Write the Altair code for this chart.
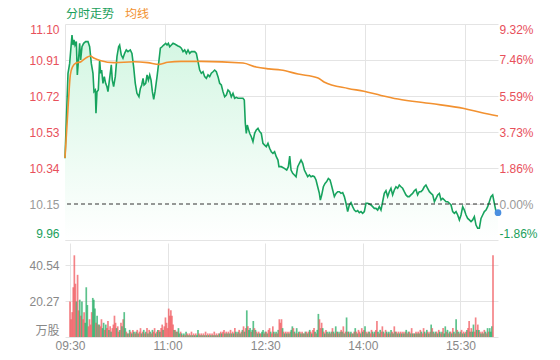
import altair as alt
import pandas as pd

# ---------------- data ----------------
prev_close = 10.15
price_ticks = [9.96, 10.15, 10.34, 10.53, 10.72, 10.91, 11.10]
pct_ticks = [-1.86, 0.00, 1.86, 3.73, 5.59, 7.46, 9.32]
vol_ticks = [0, 20.27, 40.54]
time_ticks = [0, 90, 180, 270, 360]
time_labels = ["09:30", "11:00", "12:30", "14:00", "15:30"]
legend_labels = ["分时走势", "均线"]

price_min = [
    0, 2.7, 4.2, 6.3, 7.2, 8.1, 9.0, 10.2, 11.1, 12.6, 13.2, 14.1, 15.3, 16.8, 18.6, 20.7,
    22.2, 23.7, 25.2, 26.1, 27.3, 27.9, 28.8, 30.0, 31.2, 32.1, 33.0, 34.2, 35.4, 36.6, 37.8,
    38.7, 40.2, 41.7, 42.6, 43.8, 45.3, 46.8, 48.3, 49.2, 50.7, 52.2, 53.7, 55.2, 56.7, 58.8,
    60.3, 61.8, 63.3, 64.8, 66.6, 67.9, 69.1, 70.3, 71.2, 72.7, 73.9, 75.1, 76.3, 77.5, 78.7,
    79.9, 81.1, 82.9, 84.7, 85.9, 87.4, 88.9, 90.7, 91.9, 93.1, 94.3, 95.8, 97.3, 98.8, 100.3,
    101.8, 103.3, 104.8, 106.3, 107.8, 109.3, 110.8, 112.3, 113.8, 115.3, 116.8, 118.3, 119.8,
    121.3, 122.8, 124.3, 125.8, 127.3, 128.8, 130.3, 131.8, 133.3, 134.8, 136.3, 137.8, 139.3,
    140.8, 142.3, 143.8, 145.3, 146.8, 148.3, 149.8, 151.3, 152.8, 154.3, 155.8, 157.3, 158.8,
    160.3, 161.5, 162.4, 163.3, 164.2, 165.4, 166.3, 167.8, 169.3, 170.8, 172.3, 173.8, 175.3,
    176.8, 178.3, 179.8, 181.3, 182.8, 184.3, 185.8, 187.3, 188.8, 190.3, 191.8, 192.7, 194.8,
    197.6, 199.7, 201.2, 202.4, 203.6, 205.1, 206.6, 208.1, 209.6, 211.1, 212.6, 214.1, 215.6,
    217.1, 218.6, 220.1, 221.6, 223.1, 224.6, 226.1, 227.6, 229.1, 230.0, 231.2, 232.7, 234.2,
    235.7, 237.2, 238.7, 239.6, 241.1, 242.6, 244.1, 245.6, 247.1, 248.6, 250.1, 251.6, 253.1,
    254.6, 256.1, 257.6, 259.1, 260.6, 262.1, 263.6, 265.1, 266.6, 268.1, 269.6, 271.1, 272.6,
    274.1, 275.6, 277.1, 278.6, 280.1, 281.6, 283.1, 284.6, 286.1, 287.6, 289.1, 290.6, 292.1,
    293.6, 295.1, 296.6, 298.1, 299.6, 301.1, 302.6, 304.1, 305.6, 307.1, 308.6, 310.1, 311.6,
    313.1, 314.6, 316.1, 317.6, 319.1, 320.6, 322.1, 323.6, 325.1, 326.6, 328.2, 329.7, 331.2,
    332.7, 334.2, 335.7, 337.2, 338.7, 340.2, 341.7, 343.2, 344.7, 346.2, 347.7, 349.2, 350.7,
    352.2, 353.7, 355.2, 356.7, 358.2, 359.7, 361.2, 362.7, 364.2, 365.7, 367.2, 368.7, 370.2,
    371.7, 373.2, 374.7, 376.2, 377.7, 379.2, 380.7, 382.2, 383.7, 385.2, 386.7, 388.2, 390.0,
]
price_val = [
    10.391, 10.840, 10.892, 11.042, 10.989, 11.016, 10.989, 11.007, 10.831, 10.945, 10.998,
    10.910, 10.980, 10.998, 11.007, 11.007, 10.980, 10.892, 10.840, 10.743, 10.752, 10.629,
    10.743, 10.752, 10.910, 10.840, 10.857, 10.787, 10.822, 10.787, 10.769, 10.743, 10.813,
    10.884, 10.804, 10.769, 10.822, 10.928, 10.980, 10.989, 10.936, 10.919, 10.945, 10.963,
    10.954, 10.963, 10.945, 10.875, 10.787, 10.734, 10.716, 10.760, 10.778, 10.813, 10.778,
    10.787, 10.831, 10.804, 10.831, 10.804, 10.743, 10.702, 10.743, 10.822, 10.910, 10.972,
    10.980, 10.989, 10.998, 10.989, 10.998, 10.980, 10.989, 10.998, 10.994, 10.989, 10.984,
    10.980, 10.972, 10.954, 10.963, 10.945, 10.963, 10.945, 10.954, 10.954, 10.954, 10.945,
    10.901, 10.857, 10.840, 10.848, 10.822, 10.813, 10.831, 10.822, 10.840, 10.848, 10.857,
    10.848, 10.822, 10.787, 10.778, 10.743, 10.716, 10.725, 10.752, 10.743, 10.716, 10.734,
    10.708, 10.713, 10.708, 10.708, 10.708, 10.708, 10.699, 10.576, 10.523, 10.567, 10.541,
    10.523, 10.505, 10.479, 10.523, 10.541, 10.549, 10.532, 10.523, 10.470, 10.461, 10.453,
    10.470, 10.444, 10.426, 10.417, 10.426, 10.400, 10.382, 10.347, 10.347,
    10.338, 10.329, 10.347, 10.403, 10.329, 10.312, 10.303, 10.294, 10.347, 10.365, 10.382,
    10.365, 10.329, 10.312, 10.294, 10.303, 10.294, 10.298, 10.294, 10.277, 10.241, 10.206,
    10.171, 10.197, 10.241, 10.259, 10.268, 10.285, 10.277, 10.259, 10.224, 10.189, 10.206,
    10.215, 10.215, 10.206, 10.210, 10.189, 10.154, 10.110, 10.145, 10.157, 10.136, 10.118,
    10.110, 10.115, 10.104, 10.110, 10.101, 10.110, 10.154, 10.154, 10.150, 10.145, 10.136,
    10.127, 10.127, 10.118, 10.136, 10.118, 10.162, 10.206, 10.220, 10.189, 10.215, 10.233,
    10.198, 10.224, 10.241, 10.233, 10.250, 10.241, 10.233, 10.215, 10.198, 10.189, 10.189,
    10.198, 10.206, 10.220, 10.227, 10.198, 10.215, 10.215, 10.224, 10.241, 10.250, 10.233,
    10.215, 10.206, 10.198, 10.162, 10.180, 10.198, 10.206, 10.171, 10.180, 10.171, 10.162,
    10.162, 10.154, 10.145, 10.110, 10.101, 10.110, 10.092, 10.066, 10.092, 10.136, 10.118,
    10.092, 10.074, 10.066, 10.057, 10.066, 10.083, 10.039, 10.022, 10.022, 10.074, 10.092,
    10.110, 10.118, 10.136, 10.162, 10.189, 10.198, 10.154, 10.110, 10.104,
]

avg_min = [0, 3.0, 4.8, 6.9, 9.9, 14.4, 18.9, 22.8, 26.4, 32.4, 44.1, 62.1, 74.5, 84.9, 92.5,
           104.5, 122.5, 160.3, 172.0, 183.7, 194.5, 209.9, 227.9, 233.3, 254.9, 269.3, 284.6,
           299.9, 329.7, 359.4, 374.7, 390.0]
avg_val = [10.393, 10.683, 10.831, 10.875, 10.894, 10.901, 10.921, 10.931, 10.919, 10.906,
           10.896, 10.901, 10.896, 10.887, 10.898, 10.903, 10.903, 10.894, 10.873, 10.863,
           10.857, 10.836, 10.815, 10.794, 10.760, 10.745, 10.723, 10.704, 10.680, 10.654,
           10.633, 10.614]

vol = [
    20, 10, 14, 28, 46, 30, 20, 35, 15, 21,
    12, 20, 10, 14, 8, 28, 18, 6, 10, 7,
    14, 22, 21, 16, 8, 12, 7, 7, 6, 10,
    5, 8, 4, 7, 5, 9, 4, 6, 3, 5,
    7, 12, 8, 5, 6, 3, 4, 8, 6, 10,
    14, 5, 3, 2, 2, 4, 3, 2, 4, 3,
    2, 3, 4, 2, 3, 5, 2, 3, 4, 2,
    3, 5, 2, 4, 3, 2, 4, 3, 5, 2,
    3, 4, 4, 3, 5, 7, 4, 6, 11, 8,
    5, 16, 12, 15, 12, 7, 4, 4, 3, 3,
    5, 2, 3, 2, 1, 2, 1, 3, 2, 1,
    2, 1, 3, 1, 2, 1, 2, 1, 4, 2,
    1, 2, 1, 2, 1, 3, 1, 2, 1, 2,
    1, 2, 1, 3, 1, 2, 1, 2, 2, 3,
    2, 3, 4, 2, 3, 2, 3, 2, 4, 2,
    3, 2, 5, 3, 2, 3, 4, 2, 3, 4,
    6, 3, 5, 15, 6, 4, 5, 3, 4, 9,
    5, 4, 3, 2, 3, 2, 2, 3, 4, 2,
    3, 3, 2, 4, 5, 3, 2, 6, 3, 2,
    3, 2, 4, 10, 8, 10, 5, 3, 2, 3,
    2, 3, 2, 3, 4, 6, 5, 3, 2, 5,
    2, 3, 3, 2, 3, 2, 2, 3, 3, 2,
    3, 4, 3, 2, 4, 5, 3, 2, 4, 13,
    10, 5, 8, 5, 3, 2, 4, 3, 2, 3,
    2, 3, 5, 3, 2, 6, 3, 3, 2, 3,
    4, 3, 6, 2, 3, 11, 3, 3, 2, 3,
    2, 2, 3, 5, 3, 2, 4, 3, 2, 5,
    3, 4, 6, 3, 2, 3, 3, 2, 4, 3,
    2, 3, 4, 9, 3, 2, 4, 3, 6, 3,
    2, 4, 3, 2, 3, 2, 4, 3, 2, 6,
    3, 3, 2, 3, 2, 3, 2, 3, 2, 3,
    4, 2, 3, 3, 2, 5, 2, 2, 2, 3,
    2, 3, 2, 4, 3, 2, 5, 3, 2, 4,
    3, 2, 3, 7, 5, 3, 2, 3, 3, 2,
    4, 3, 2, 3, 5, 2, 6, 3, 4, 2,
    3, 3, 2, 5, 3, 2, 10, 4, 3, 2,
    3, 4, 2, 3, 2, 3, 4, 5, 9, 3,
    5, 3, 7, 3, 11, 4, 7, 4, 3, 2,
    3, 2, 4, 3, 2, 5, 3, 5, 3, 6,
    46,
]
vol_dir = (
    "rrrrrrgrrg" "rgrrgggrrr" "rgggrgrgrr" "ggrgrrgrgr" "rrrgrrgrgr"
    "ggrgrgrgrg" "rgrgrrgrgr" "grgrgrgrrg" "rgrgrrgrrr" "rrrrrrgrgr"
    "ggrgrgrgrg" "rgrgrgrggr" "grgrgrgrgr" "grgrgrgrgr" "grrgrgrgrg"
    "rgrgrgrgrg" "rgrgrggrgg" "rgrgrgrggr" "grgrrgrrgr" "grgrrrgrgr"
    "grgrggrgrg" "rgrgrgrgrg" "rgrgrrgrgg" "rrrgrgrgrg" "rgrgrgrgrg"
    "rgrgrgrgrg" "rgrgrgrrgr" "grgrgrgrrg" "rgrrgrgrrg" "rrgrgrgrgr"
    "grgrgrgrgr" "grgrgrgrgr" "grgrgrrgrg" "rgrgrgrgrg" "rgrgrggrgr"
    "grgrgrgrgr" "grgrgrgrrg" "rggrrgrgrg" "rgrgrgrggg" "r"
)

# ---------------- styles ----------------
RED = "#e8505b"
GREEN = "#1aa05b"
GREY = "#999999"
GRID = "#e4e4e4"
FONT = "Liberation Sans, Noto Sans CJK SC, sans-serif"

price_df = pd.DataFrame({"m": price_min, "p": price_val})
avg_df = pd.DataFrame({"m": avg_min, "p": avg_val})
last_df = price_df.tail(1)
vol_df = pd.DataFrame({"m": list(range(len(vol))), "v": vol, "d": list(vol_dir)})
pct_df = pd.DataFrame({"q": pct_ticks})

x_scale = alt.Scale(domain=[0, 390], nice=False, zero=False)
y_scale = alt.Scale(domain=[price_ticks[0], price_ticks[-1]], nice=False, zero=False)

time_expr = "[" + ",".join(f"'{t}'" for t in time_labels) + "][indexof([" + \
    ",".join(str(t) for t in time_ticks) + "], datum.value)]"

x_top = alt.X("m:Q", scale=x_scale, title=None,
              axis=alt.Axis(values=time_ticks, labels=False, ticks=False, domain=False,
                            grid=True, gridColor=GRID, labelPadding=0))
left_axis = alt.Axis(values=price_ticks, format=".2f", labelFlush=True, ticks=False,
                     domain=False, grid=True, gridColor=GRID, labelPadding=6,
                     labelOverlap=False,
                     labelColor={"expr": f"datum.value > {prev_close + 0.01} ? '{RED}' : (datum.value < {prev_close - 0.01} ? '{GREEN}' : '{GREY}')"})
y_left = alt.Y("p:Q", scale=y_scale, title=None, axis=left_axis)

gradient = alt.Gradient(
    gradient="linear",
    stops=[alt.GradientStop(color="#d3f6e2", offset=0),
           alt.GradientStop(color="#ffffff", offset=1)],
    x1=1, x2=1, y1=0, y2=1,
)

area = alt.Chart(price_df).mark_area(color=gradient, line=False).encode(
    x=x_top, y=y_left, y2=alt.datum(price_ticks[0]))
line = alt.Chart(price_df).mark_line(color="#17a35e", strokeWidth=1.6).encode(
    x=x_top, y=y_left)
avg_line = alt.Chart(avg_df).mark_line(color="#f29130", strokeWidth=1.6,
                                       interpolate="monotone").encode(x=x_top, y=y_left)
base_rule = alt.Chart(pd.DataFrame({"p": [prev_close]})).mark_rule(
    color="#333333", strokeDash=[4, 3], strokeWidth=1).encode(y=y_left)
dot = alt.Chart(last_df).mark_circle(color="#4a8fe0", size=45, opacity=1).encode(
    x=x_top, y=y_left)
leg1 = alt.Chart(pd.DataFrame({"t": [legend_labels[0]]})).mark_text(
    align="left", baseline="middle", fontSize=12, color=GREEN, font=FONT).encode(
    text="t:N", x=alt.value(1), y=alt.value(-10))
leg2 = alt.Chart(pd.DataFrame({"t": [legend_labels[1]]})).mark_text(
    align="left", baseline="middle", fontSize=12, color="#f29130", font=FONT).encode(
    text="t:N", x=alt.value(60), y=alt.value(-10))

price_layers = alt.layer(area, line, avg_line, base_rule, dot, leg1, leg2)

pct_layer = alt.Chart(pct_df).mark_point(opacity=0).encode(
    y=alt.Y("q:Q", title=None,
            scale=alt.Scale(domain=[pct_ticks[0], pct_ticks[-1]], nice=False, zero=False),
            axis=alt.Axis(orient="right", values=pct_ticks, labelFlush=True, ticks=False,
                          domain=False, grid=False, labelPadding=1, labelOverlap=False,
                          labelExpr="replace(format(datum.value, '.2f'), '\u2212', '-') + '%'",
                          labelColor={"expr": f"datum.value > 0.01 ? '{RED}' : (datum.value < -0.01 ? '{GREEN}' : '{GREY}')"})))

top = alt.layer(price_layers, pct_layer).resolve_scale(y="independent").properties(
    width=433, height=216)

vol_top = 94 / 36 * vol_ticks[1]
bottom = alt.Chart(vol_df).mark_bar(size=1.7, opacity=0.75).encode(
    x=alt.X("m:Q", scale=x_scale, title=None,
            axis=alt.Axis(values=time_ticks, labelExpr=time_expr, labelFlush=True, ticks=False,
                          domain=False, grid=True, gridColor=GRID, labelPadding=3,
                          labelOverlap=False, labelColor="#888888")),
    y=alt.Y("v:Q", title=None, scale=alt.Scale(domain=[0, vol_top], nice=False),
            axis=alt.Axis(values=vol_ticks, labelFlush=True, ticks=False, domain=False,
                          grid=True, gridColor=GRID, labelPadding=6, labelColor="#888888",
                          labelOverlap=False,
                          labelExpr="datum.value == 0 ? '万股' : format(datum.value, '.2f')")),
    color=alt.Color("d:N", scale=alt.Scale(domain=["r", "g"], range=["#f05a5f", "#25ad66"]),
                    legend=None),
).properties(width=433, height=94)

chart = alt.vconcat(top, bottom, spacing=-2).properties(
    padding={"left": 20, "top": 0, "right": 5, "bottom": 0}
).configure_axis(
    labelFont=FONT, labelFontSize=12, labelOverlap=False
).configure_view(strokeWidth=0)

chart.save("out.html", embed_options={"renderer": "svg", "actions": False})
